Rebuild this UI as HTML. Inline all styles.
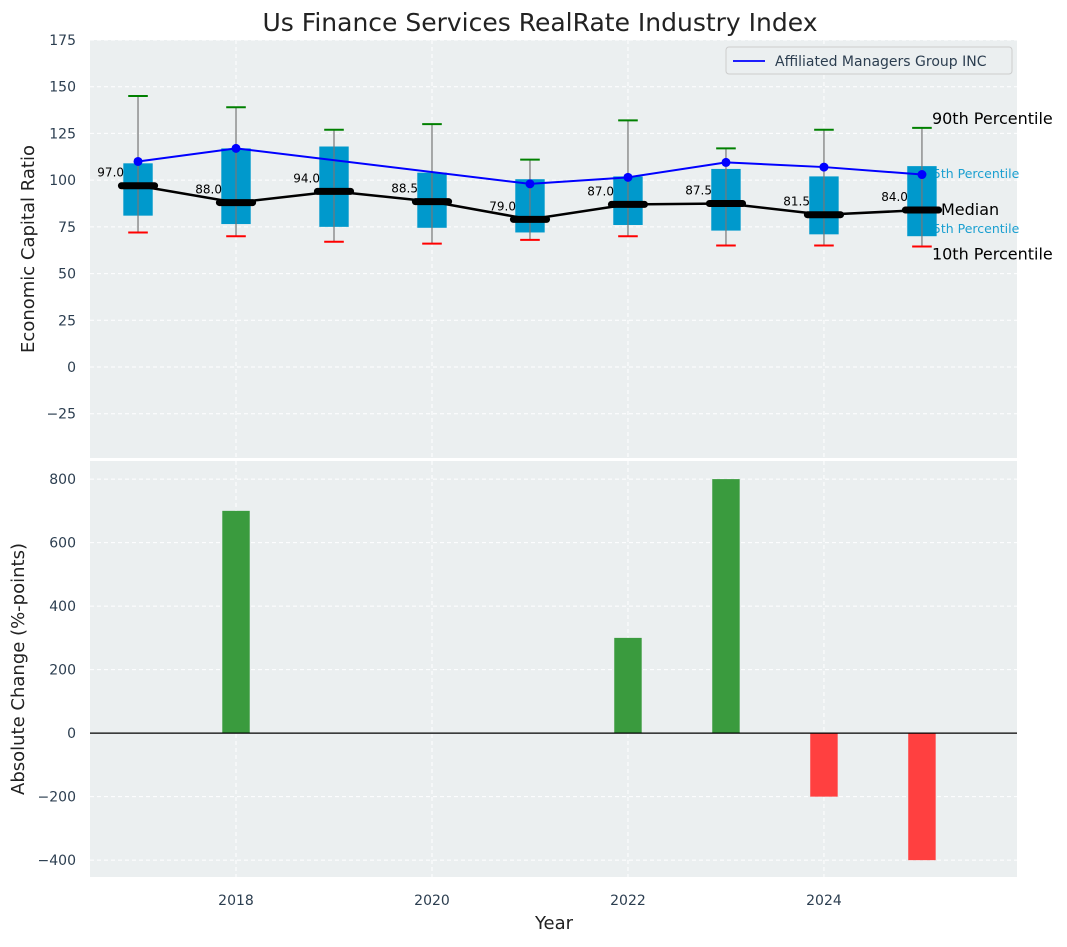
<!DOCTYPE html>
<html><head><meta charset="utf-8"><style>
body{margin:0;background:#fff;font-family:"Liberation Sans","DejaVu Sans",sans-serif}
svg text{font-family:"DejaVu Sans","Liberation Sans",sans-serif}
</style></head><body>
<svg id="c" width="1067" height="942" xmlns="http://www.w3.org/2000/svg"></svg>
<script>
const years=[2017,2018,2019,2020,2021,2022,2023,2024,2025];
const p90=[145,139,127,130,111,132,117,127,128];
const p75=[109,117,118,104,100.5,102,106,102,107.5];
const median=[97,88,94,88.5,79,87,87.5,81.5,84];
const p25=[81,76.5,75,74.5,72,76,73,71,70];
const p10=[72,70,67,66,68,70,65,65,64.5];
const amg=[110,117,null,null,98,101.5,109.5,107,103];
const change=[0,700,0,0,0,300,800,-200,-400];
const topTicks=[-25,0,25,50,75,100,125,150,175];
const botTicks=[-400,-200,0,200,400,600,800];
const xTicks=[2018,2020,2022,2024];

const S=document.getElementById('c');const NS='http://www.w3.org/2000/svg';
function el(t,a,txt){const e=document.createElementNS(NS,t);for(const k in a)e.setAttribute(k,a[k]);if(txt!=null)e.textContent=txt;S.appendChild(e);return e;}
const L=90,R=1017;
const X=y=>L+(y-2016.51)/(2025.97-2016.51)*(R-L);
const T0=40,T1=458,tMin=-48.7,tMax=175;
const YT=v=>T1-(v-tMin)/(tMax-tMin)*(T1-T0);
const B0=461,B1=877,bMin=-453,bMax=857;
const YB=v=>B1-(v-bMin)/(bMax-bMin)*(B1-B0);
const tc='#2c3e50';

let e;
e=el('rect',{x:L,y:T0,width:R-L,height:T1-T0,fill:'#ebeff0'});

e=el('rect',{x:L,y:B0,width:R-L,height:B1-B0,fill:'#ebeff0'});


xTicks.forEach(y=>{
 e=el('line',{x1:X(y),x2:X(y),y1:T0,y2:T1,stroke:'#fff','stroke-dasharray':'4,3'});
 
 e=el('line',{x1:X(y),x2:X(y),y1:B0,y2:B1,stroke:'#fff','stroke-dasharray':'4,3'});
 
 e=el('text',{x:X(y),y:905,'text-anchor':'middle','font-size':14,fill:tc},y);
 
});
topTicks.forEach(v=>{
 e=el('line',{x1:L,x2:R,y1:YT(v),y2:YT(v),stroke:'#fff','stroke-dasharray':'4,3'});
 
 e=el('text',{x:76,y:YT(v)+5,'text-anchor':'end','font-size':14,fill:tc},v<0?'\u2212'+(-v):v);
 
});
botTicks.forEach(v=>{
 e=el('line',{x1:L,x2:R,y1:YB(v),y2:YB(v),stroke:'#fff','stroke-dasharray':'4,3'});
 
 e=el('text',{x:76,y:YB(v)+5,'text-anchor':'end','font-size':14,fill:tc},v<0?'\u2212'+(-v):v);
 
});

const lx=X(2025)+10;
e=el('text',{x:lx,y:YT(p90[8])-4,'font-size':16,fill:'#000'},'90th Percentile');

e=el('text',{x:X(2025)+3,y:YT(p75[8])+12,'font-size':12.5,fill:'#1a9fd0'},'75th Percentile');

e=el('text',{x:X(2025)+3,y:YT(p25[8])-3,'font-size':12.5,fill:'#1a9fd0'},'25th Percentile');

e=el('text',{x:X(2025)+19,y:YT(median[8])+5,'font-size':16,fill:'#000'},'Median');

e=el('text',{x:lx,y:YT(p10[8])+13,'font-size':16,fill:'#000'},'10th Percentile');


const bw=(X(1)-X(0))*0.3, cw=(X(1)-X(0))*0.2, mw=(X(1)-X(0))*0.4;
years.forEach((y,i)=>{
 const x=X(y);
 e=el('rect',{x:x-bw/2,y:YT(p75[i]),width:bw,height:YT(p25[i])-YT(p75[i]),fill:'#0099cc'});
 
 e=el('line',{x1:x,x2:x,y1:YT(p90[i]),y2:YT(p10[i]),stroke:'#777','stroke-width':1.2});
 
 e=el('line',{x1:x-cw/2,x2:x+cw/2,y1:YT(p90[i]),y2:YT(p90[i]),stroke:'green','stroke-width':2});
 
 e=el('line',{x1:x-cw/2,x2:x+cw/2,y1:YT(p10[i]),y2:YT(p10[i]),stroke:'red','stroke-width':2});
 
});
e=el('polyline',{points:years.map((y,i)=>X(y)+','+YT(median[i])).join(' '),fill:'none',stroke:'#000','stroke-width':2.5});

years.forEach((y,i)=>{
 const x=X(y);
 e=el('line',{x1:x-mw/2+3,x2:x+mw/2-3,y1:YT(median[i]),y2:YT(median[i]),stroke:'#000','stroke-width':7,'stroke-linecap':'round'});
 
 e=el('text',{x:x-14,y:YT(median[i])-9,'text-anchor':'end','font-size':12,fill:'#000'},median[i].toFixed(1));
 
});
const ap=years.map((y,i)=>amg[i]==null?null:[X(y),YT(amg[i])]).filter(p=>p);
e=el('polyline',{points:ap.map(p=>p.join(',')).join(' '),fill:'none',stroke:'#0000ff','stroke-width':2});

ap.forEach(p=>{e=el('circle',{cx:p[0],cy:p[1],r:4.5,fill:'#0000ff'});
 });

e=el('rect',{x:726,y:47,width:286,height:27,rx:3,fill:'#ebeff0',stroke:'#ccc'});

e=el('line',{x1:733,x2:765,y1:61,y2:61,stroke:'#0000ff','stroke-width':1.8});

e=el('text',{x:775,y:66,'font-size':14,fill:'#2c3e50'},'Affiliated Managers Group INC');


const bbw=(X(1)-X(0))*0.28;
years.forEach((y,i)=>{
 const v=change[i];if(!v)return;
 e=el('rect',{x:X(y)-bbw/2,y:Math.min(YB(v),YB(0)),width:bbw,height:Math.abs(YB(v)-YB(0)),fill:v>0?'#3a9b3e':'#ff4040'});
 
});
e=el('line',{x1:L,x2:R,y1:YB(0),y2:YB(0),stroke:'#000','stroke-width':1.2});


e=el('text',{x:540,y:31,'text-anchor':'middle','font-size':25,fill:'#222'},'Us Finance Services RealRate Industry Index');

e=el('text',{x:0,y:0,'text-anchor':'middle','font-size':18,fill:'#222',transform:'translate(34,249) rotate(-90)'},'Economic Capital Ratio');

e=el('text',{x:0,y:0,'text-anchor':'middle','font-size':18,fill:'#222',transform:'translate(24,669) rotate(-90)'},'Absolute Change (%-points)');

e=el('text',{x:554,y:929,'text-anchor':'middle','font-size':18,fill:'#222'},'Year');

</script>
</body></html>
